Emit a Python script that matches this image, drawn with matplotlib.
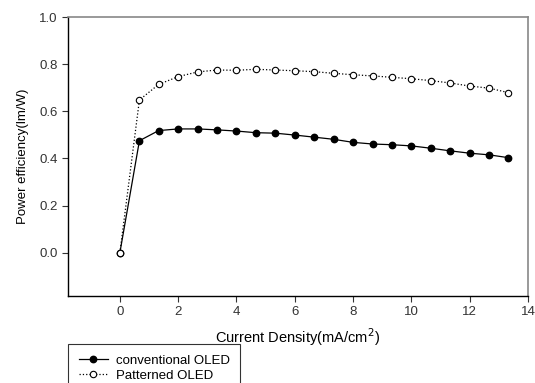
import matplotlib
matplotlib.use('Agg')
import matplotlib.pyplot as plt

plt.rcParams['font.family'] = ['Liberation Sans', 'DejaVu Sans']

# current density (mA/cm2)
current = [0, 0.67, 1.33, 2.0, 2.67, 3.33, 4.0, 4.67, 5.33, 6.0, 6.67,
           7.33, 8.0, 8.67, 9.33, 10.0, 10.67, 11.33, 12.0, 12.67, 13.33]
conventional = [0.0, 0.475, 0.518, 0.525, 0.525, 0.521, 0.516, 0.509, 0.507, 0.499, 0.490,
                0.481, 0.468, 0.461, 0.458, 0.453, 0.443, 0.432, 0.422, 0.415, 0.403]
patterned = [0.0, 0.648, 0.714, 0.747, 0.767, 0.775, 0.774, 0.778, 0.775, 0.772, 0.768,
             0.761, 0.755, 0.750, 0.744, 0.738, 0.730, 0.720, 0.707, 0.698, 0.679]
xticks = [0, 2, 4, 6, 8, 10, 12, 14]
yticks = [0.0, 0.2, 0.4, 0.6, 0.8, 1.0]

fig = plt.figure(figsize=(5.35, 3.83), dpi=100)
ax = fig.add_axes([68/535, 1 - 296/383, (528-68)/535, (296-17)/383])

ax.plot(current, conventional, '-', color='black', lw=0.9, marker='o', ms=4.6,
        mfc='black', mec='black', label='conventional OLED')
ax.plot(current, patterned, ':', color='black', lw=0.9, marker='o', ms=4.6,
        mfc='white', mec='black', mew=0.8, label='Patterned OLED')

ax.set_xlim(-1.78, 14)
ax.set_ylim(-0.184, 1.0)
ax.set_xticks(xticks)
ax.set_yticks(yticks)
ax.set_yticklabels([f'{v:.1f}' for v in yticks])
ax.tick_params(direction='out', length=4, width=0.8, labelsize=9.5,
               labelcolor='#333333', color='#333333')

for s in ['top', 'right']:
    ax.spines[s].set_color('#888888')
    ax.spines[s].set_linewidth(1.2)
for s in ['left', 'bottom']:
    ax.spines[s].set_color('black')
    ax.spines[s].set_linewidth(1.0)

ax.set_xlabel('Current Density(mA/cm$^2$)', fontsize=10.5, labelpad=6)
ax.set_ylabel('Power efficiency(lm/W)', fontsize=9.5, labelpad=7)

leg = fig.legend(loc='upper left', bbox_to_anchor=(68/535, 1 - 344/383),
                 fontsize=9.5, frameon=True, fancybox=False, handlelength=2.2,
                 borderpad=0.8, labelspacing=0.2, handletextpad=0.6,
                 borderaxespad=0)
leg.get_frame().set_edgecolor('black')
leg.get_frame().set_linewidth(0.8)

fig.savefig('out.png', dpi=100)
